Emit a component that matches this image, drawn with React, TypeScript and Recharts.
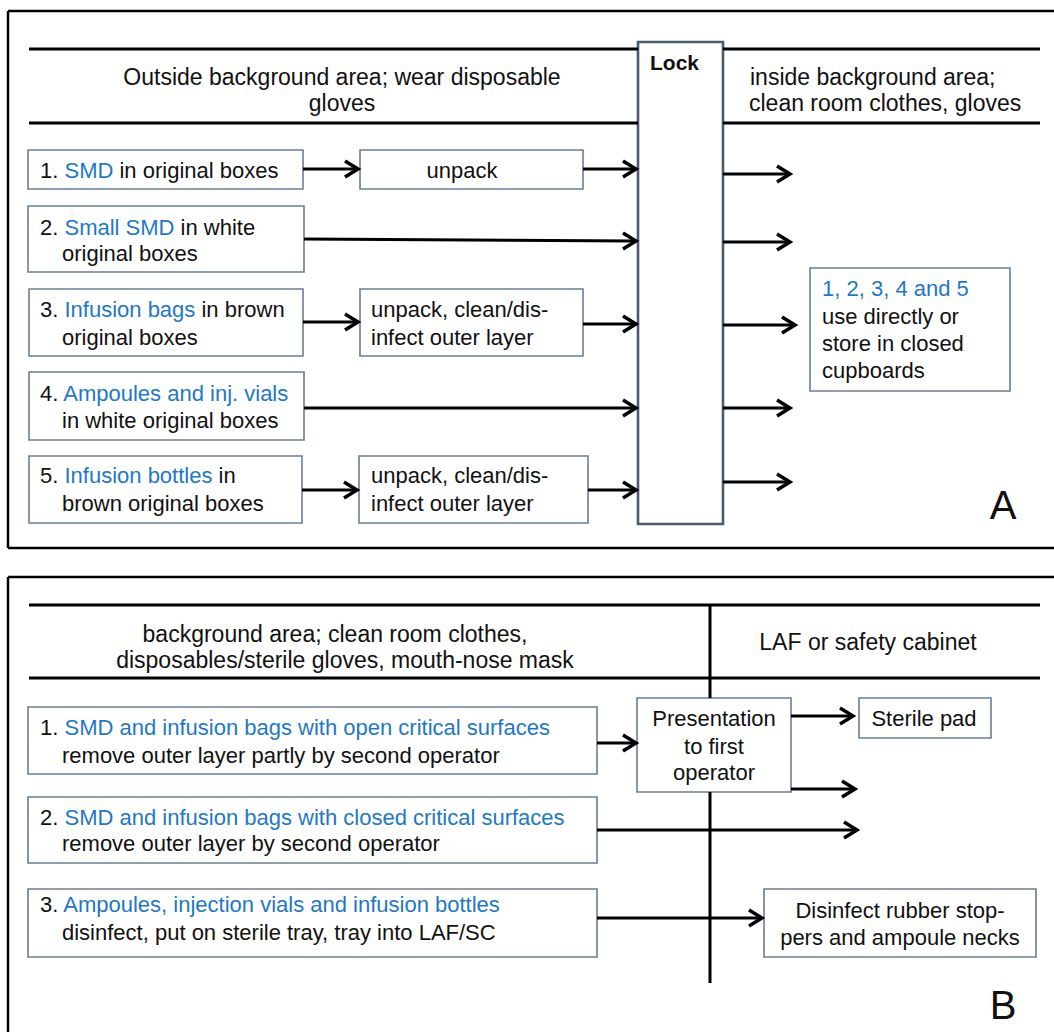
import React from "react";
import { ComposedChart, XAxis, YAxis, ReferenceArea, ReferenceLine, Scatter } from "recharts";

const WIDTH = 1054;
const HEIGHT = 1032;

// Panel frame edges [x1, y1, x2, y2] in diagram units
const frameLines = [
  [8, 11, 1054, 11],
  [8, 11, 8, 548],
  [8, 548, 1054, 548],
  [8, 577, 1054, 577],
  [8, 577, 8, 1032],
];

// Header rules and the panel-B divider
const ruleLines = [
  [29, 49, 638, 49],
  [723, 49, 1040, 49],
  [29, 123, 638, 123],
  [723, 123, 1040, 123],
  [29, 605, 1040, 605],
  [29, 678, 1040, 678],
  [710, 605, 710, 698],
  [710, 792, 710, 983],
];

// Process boxes [x1, y1, x2, y2]
const boxes = [
  [28, 150, 303, 189],
  [360, 150, 583, 189],
  [28, 206, 304, 272],
  [29, 289, 303, 356],
  [360, 289, 583, 356],
  [29, 372, 304, 440],
  [29, 456, 302, 523],
  [359, 456, 588, 523],
  [810, 268, 1010, 391],
  [28, 707, 597, 774],
  [637, 698, 791, 792],
  [859, 698, 991, 738],
  [28, 797, 597, 863],
  [28, 889, 597, 957],
  [764, 889, 1036, 957],
];

const lockBox = [638, 42, 723, 524];

// Arrows [x1, y1, x2 (tip), y2 (tip)]
const arrows = [
  [303, 169, 358, 169],
  [583, 169, 636, 169],
  [304, 239, 636, 241],
  [303, 322, 358, 322],
  [583, 324, 636, 324],
  [304, 408, 636, 408],
  [302, 490, 357, 490],
  [588, 490, 636, 490],
  [723, 174, 790, 174],
  [723, 242, 790, 242],
  [723, 325, 795, 325],
  [723, 408, 790, 408],
  [723, 482, 790, 482],
  [597, 743, 636, 743],
  [791, 716, 853, 716],
  [791, 789, 855, 789],
  [597, 830, 857, 830],
  [597, 918, 762, 918],
];

// Text lines; [..] marks blue text
const labels = [
  { x: 342, y: 77, role: "head", text: "Outside background area; wear disposable" },
  { x: 342, y: 103, role: "head", text: "gloves" },
  { x: 650, y: 62, role: "lock", text: "Lock" },
  { x: 750, y: 77, role: "headL", text: "inside background area;" },
  { x: 749, y: 103, role: "headL", text: "clean room clothes, gloves" },
  { x: 40, y: 170, role: "item", text: "1. [SMD] in original boxes" },
  { x: 462, y: 170, role: "itemC", text: "unpack" },
  { x: 40, y: 227, role: "item", text: "2. [Small SMD] in white" },
  { x: 62, y: 253, role: "item", text: "original boxes" },
  { x: 40, y: 309, role: "item", text: "3. [Infusion bags] in brown" },
  { x: 62, y: 337, role: "item", text: "original boxes" },
  { x: 371, y: 309, role: "item", text: "unpack, clean/dis-" },
  { x: 371, y: 337, role: "item", text: "infect outer layer" },
  { x: 40, y: 393, role: "item", text: "4. [Ampoules and inj. vials]" },
  { x: 62, y: 420, role: "item", text: "in white original boxes" },
  { x: 40, y: 475, role: "item", text: "5. [Infusion bottles] in" },
  { x: 62, y: 503, role: "item", text: "brown original boxes" },
  { x: 371, y: 475, role: "item", text: "unpack, clean/dis-" },
  { x: 371, y: 503, role: "item", text: "infect outer layer" },
  { x: 822, y: 288, role: "item", text: "[1, 2, 3, 4 and 5]" },
  { x: 822, y: 316, role: "item", text: "use directly or" },
  { x: 822, y: 343, role: "item", text: "store in closed" },
  { x: 822, y: 370, role: "item", text: "cupboards" },
  { x: 1003, y: 505, role: "panel", text: "A" },
  { x: 335, y: 634, role: "head", text: "background area; clean room clothes," },
  { x: 345, y: 660, role: "head", text: "disposables/sterile gloves, mouth-nose mask" },
  { x: 868, y: 642, role: "head", text: "LAF or safety cabinet" },
  { x: 40, y: 727, role: "item", text: "1. [SMD and infusion bags with open critical surfaces]" },
  { x: 62, y: 755, role: "item", text: "remove outer layer partly by second operator" },
  { x: 714, y: 718, role: "itemC", text: "Presentation" },
  { x: 714, y: 746, role: "itemC", text: "to first" },
  { x: 714, y: 772, role: "itemC", text: "operator" },
  { x: 924, y: 718, role: "itemC", text: "Sterile pad" },
  { x: 40, y: 817, role: "item", text: "2. [SMD and infusion bags with closed critical surfaces]" },
  { x: 62, y: 843, role: "item", text: "remove outer layer by second operator" },
  { x: 40, y: 904, role: "item", text: "3. [Ampoules, injection vials and infusion bottles]" },
  { x: 62, y: 932, role: "item", text: "disinfect, put on sterile tray, tray into LAF/SC" },
  { x: 900, y: 910, role: "itemC", text: "Disinfect rubber stop-" },
  { x: 900, y: 937, role: "itemC", text: "pers and ampoule necks" },
  { x: 1003, y: 1005, role: "panel", text: "B" },
];

const FONT = "'Liberation Sans', Arial, Helvetica, sans-serif";
const BLUE = "#1e78c8";
const INK = "#111111";
const BOX_STROKE = "#6a7d98";

const roleStyle: Record<string, { size: number; anchor: string; weight: string }> = {
  head: { size: 23, anchor: "middle", weight: "normal" },
  headL: { size: 23, anchor: "start", weight: "normal" },
  item: { size: 22, anchor: "start", weight: "normal" },
  itemC: { size: 22, anchor: "middle", weight: "normal" },
  lock: { size: 21, anchor: "start", weight: "bold" },
  panel: { size: 40, anchor: "middle", weight: "normal" },
};

function splitParts(t: string) {
  const out: { s: string; blue: boolean }[] = [];
  const re = /\[([^\]]*)\]/g;
  let last = 0;
  let m: RegExpExecArray | null;
  while ((m = re.exec(t)) !== null) {
    if (m.index > last) out.push({ s: t.slice(last, m.index), blue: false });
    out.push({ s: m[1], blue: true });
    last = m.index + m[0].length;
  }
  if (last < t.length) out.push({ s: t.slice(last), blue: false });
  return out;
}

const TextShape = (props: any) => {
  const { cx, cy, payload } = props;
  if (cx == null || cy == null || !payload) return null;
  const st = roleStyle[payload.role];
  const parts = splitParts(payload.text);
  return (
    <text
      x={cx}
      y={cy}
      textAnchor={st.anchor as any}
      dominantBaseline="central"
      fontFamily={FONT}
      fontSize={st.size}
      fontWeight={st.weight}
      fill={INK}
      style={{ whiteSpace: "pre" }}
    >
      {parts.map((p, i) => (
        <tspan key={i} fill={p.blue ? BLUE : INK}>
          {p.s}
        </tspan>
      ))}
    </text>
  );
};

const ArrowHead = (props: any) => {
  const { cx, cy } = props;
  if (cx == null || cy == null) return null;
  return (
    <path
      d={`M ${cx - 13} ${cy - 8} L ${cx} ${cy} L ${cx - 13} ${cy + 8}`}
      fill="none"
      stroke="#000"
      strokeWidth={3.5}
      strokeLinejoin="miter"
    />
  );
};

const arrowTips = arrows.map((a) => ({ x: a[2], y: a[3] }));

export default function App() {
  return (
    <div style={{ position: "absolute", left: 0, top: 0, background: "#fff" }}>
      <ComposedChart width={WIDTH} height={HEIGHT} margin={{ top: 0, right: 0, bottom: 0, left: 0 }}>
        <XAxis type="number" dataKey="x" domain={[0, WIDTH]} hide allowDataOverflow />
        <YAxis type="number" dataKey="y" domain={[0, HEIGHT]} reversed hide allowDataOverflow />
        {frameLines.map((l, i) => (
          <ReferenceLine
            key={`f${i}`}
            segment={[{ x: l[0], y: l[1] }, { x: l[2], y: l[3] }]}
            stroke="#000"
            strokeWidth={2.5}
            ifOverflow="visible"
          />
        ))}
        {ruleLines.map((l, i) => (
          <ReferenceLine
            key={`r${i}`}
            segment={[{ x: l[0], y: l[1] }, { x: l[2], y: l[3] }]}
            stroke="#000"
            strokeWidth={3}
            ifOverflow="visible"
          />
        ))}
        {boxes.map((b, i) => (
          <ReferenceArea
            key={`b${i}`}
            x1={b[0]}
            y1={b[1]}
            x2={b[2]}
            y2={b[3]}
            fill="none"
            fillOpacity={0}
            stroke={BOX_STROKE}
            strokeWidth={1.6}
            ifOverflow="visible"
          />
        ))}
        <ReferenceArea
          x1={lockBox[0]}
          y1={lockBox[1]}
          x2={lockBox[2]}
          y2={lockBox[3]}
          fill="none"
          fillOpacity={0}
          stroke="#4a5a70"
          strokeWidth={2.6}
          ifOverflow="visible"
        />
        {arrows.map((a, i) => (
          <ReferenceLine
            key={`a${i}`}
            segment={[{ x: a[0], y: a[1] }, { x: a[2] - 2, y: a[3] }]}
            stroke="#000"
            strokeWidth={3}
            ifOverflow="visible"
          />
        ))}
        <Scatter data={arrowTips} shape={ArrowHead} isAnimationActive={false} />
        <Scatter data={labels} shape={TextShape} isAnimationActive={false} />
      </ComposedChart>
    </div>
  );
}
